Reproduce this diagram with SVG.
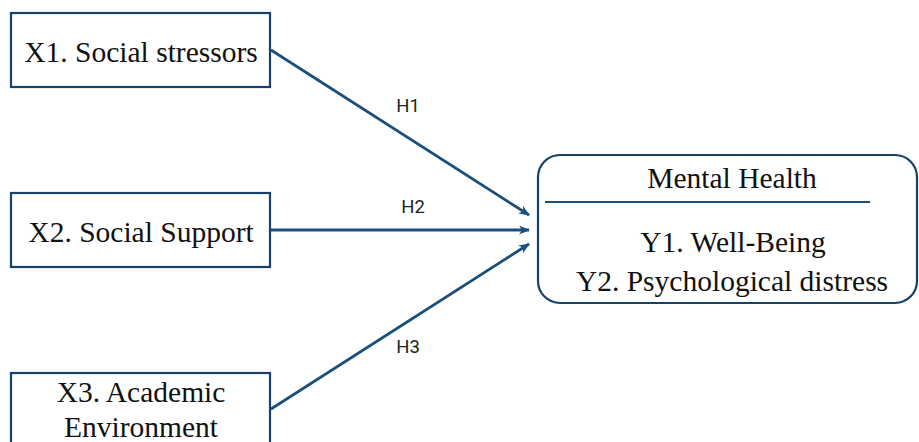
<svg xmlns="http://www.w3.org/2000/svg" width="919" height="442" viewBox="0 0 919 442">
<style>
.box{fill:#fff;stroke:#17406a;stroke-width:2.2}
.t{font-family:"Liberation Serif","Times New Roman",serif;font-size:29.5px;fill:#111;text-anchor:middle}
.h{font-family:Roboto,"Liberation Sans",sans-serif;font-size:18.5px;fill:#222;text-anchor:middle}
.c{stroke:#1b4f7c;stroke-width:2.8;fill:none;marker-end:url(#ah)}
</style>
<defs>
<marker id="ah" markerWidth="11" markerHeight="9" refX="10" refY="4.5" orient="auto" markerUnits="userSpaceOnUse">
<path d="M0,0 L11,4.5 L0,9 L3,4.5 Z" fill="#1b4f7c"/>
</marker>
</defs>
<rect width="919" height="442" fill="#fff"/>
<g id="connectors">
<line class="c" x1="271" y1="50" x2="529" y2="215"/>
<line class="c" x1="271" y1="230" x2="529" y2="230"/>
<line class="c" x1="271" y1="409" x2="529" y2="244"/>
<text class="h" x="408" y="112">H1</text>
<text class="h" x="413" y="213">H2</text>
<text class="h" x="408" y="353">H3</text>
</g>
<g id="x1">
<rect class="box" x="11" y="13" width="259" height="74"/>
<text class="t" x="141" y="62">X1. Social stressors</text>
</g>
<g id="x2">
<rect class="box" x="11" y="193" width="259" height="74"/>
<text class="t" x="141" y="242">X2. Social Support</text>
</g>
<g id="x3">
<rect class="box" x="11" y="373" width="259" height="80"/>
<text class="t" x="141" y="402">X3. Academic</text>
<text class="t" x="141" y="437">Environment</text>
</g>
<g id="mental-health">
<rect class="box" x="538" y="155" width="379" height="148" rx="22" ry="22"/>
<line x1="545" y1="202" x2="870" y2="202" stroke="#1b4f7c" stroke-width="2"/>
<text class="t" x="732" y="188">Mental Health</text>
<text class="t" x="733" y="252">Y1. Well-Being</text>
<text class="t" x="732" y="291">Y2. Psychological distress</text>
</g>
</svg>
